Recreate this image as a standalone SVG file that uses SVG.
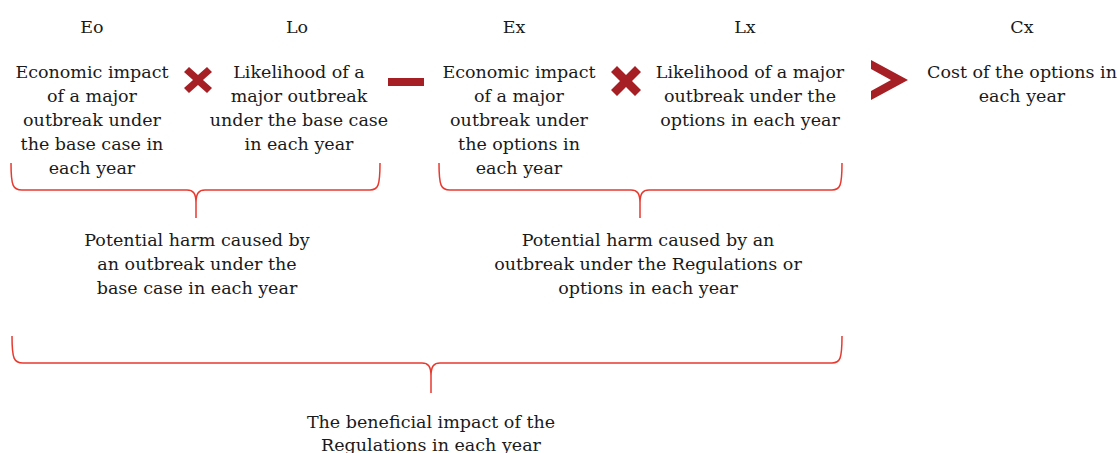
<svg xmlns="http://www.w3.org/2000/svg" width="1118" height="453" viewBox="0 0 1118 453">
<style>
text{font-family:"DejaVu Serif","Liberation Serif",serif;font-size:17.5px;fill:#1a1a1a;text-anchor:middle}
.op{fill:#a51f24}
.brace{fill:none;stroke:#e8392f;stroke-width:1.5}
</style>
<rect width="1118" height="453" fill="#fff"/>
<g id="eo">
<text x="92" y="33">Eo</text>
<text x="92" y="78">Economic impact</text>
<text x="92" y="102">of a major</text>
<text x="92" y="126">outbreak under</text>
<text x="92" y="150">the base case in</text>
<text x="92" y="174">each year</text>
</g>
<g id="times1"><path class="op" d="M189,67 L198,75 L207,67 L212,72 L203,80 L212,88 L207,93 L198,85 L189,93 L184,88 L193,80 L184,72 Z"/></g>
<g id="lo">
<text x="297" y="33">Lo</text>
<text x="299" y="78">Likelihood of a</text>
<text x="299" y="102">major outbreak</text>
<text x="299" y="126">under the base case</text>
<text x="299" y="150">in each year</text>
</g>
<g id="minus"><rect class="op" x="388" y="78" width="36" height="8"/></g>
<g id="ex">
<text x="514" y="33">Ex</text>
<text x="519" y="78">Economic impact</text>
<text x="519" y="102">of a major</text>
<text x="519" y="126">outbreak under</text>
<text x="519" y="150">the options in</text>
<text x="519" y="174">each year</text>
</g>
<g id="times2"><path class="op" d="M617,66 L626,75 L635,66 L641,72 L632,81 L641,90 L635,96 L626,87 L617,96 L611,90 L620,81 L611,72 Z"/></g>
<g id="lx">
<text x="745" y="33">Lx</text>
<text x="750" y="78">Likelihood of a major</text>
<text x="750" y="102">outbreak under the</text>
<text x="750" y="126">options in each year</text>
</g>
<g id="greater"><path class="op" d="M871,60 L908,80 L871,100 L871,91 L891,80 L871,69 Z"/></g>
<g id="cx">
<text x="1022" y="33">Cx</text>
<text x="1022" y="78">Cost of the options in</text>
<text x="1022" y="102">each year</text>
</g>
<g id="connectors">
<path class="brace" d="M11,163 C11,186 13,190 22,190 L187,190 C193,190 196,193 196,203 L196,218 M196,203 C196,193 199,190 205,190 L370,190 C378,190 380,186 380,163"/>
<path class="brace" d="M439,163 C439,186 441,190 450,190 L631,190 C637,190 640,193 640,203 L640,218 M640,203 C640,193 643,190 649,190 L832,190 C840,190 842,186 842,163"/>
<path class="brace" d="M12,336 C12,359 14,363 23,363 L422,363 C428,363 431,366 431,376 L431,393 M431,376 C431,366 434,363 440,363 L832,363 C840,363 842,359 842,336"/>
</g>
<g id="harm-base">
<text x="197" y="246">Potential harm caused by</text>
<text x="197" y="270">an outbreak under the</text>
<text x="197" y="294">base case in each year</text>
</g>
<g id="harm-options">
<text x="648" y="246">Potential harm caused by an</text>
<text x="648" y="270">outbreak under the Regulations or</text>
<text x="648" y="294">options in each year</text>
</g>
<g id="benefit">
<text x="431" y="428">The beneficial impact of the</text>
<text x="431" y="451">Regulations in each year</text>
</g>
</svg>
